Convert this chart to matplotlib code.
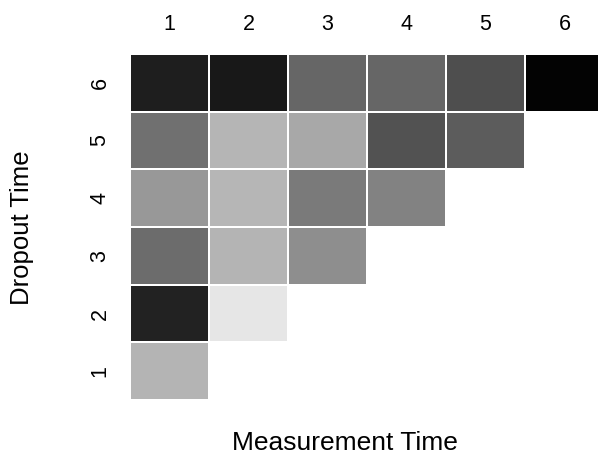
import numpy as np
import matplotlib
matplotlib.use("Agg")
import matplotlib.pyplot as plt

plt.rcParams['font.family'] = ['Liberation Sans', 'DejaVu Sans']

measurement = [1, 2, 3, 4, 5, 6]
dropout = [1, 2, 3, 4, 5, 6]
# gray level (0=black, 255=white) per dropout row (1..6), measurement col (1..6)
row1 = [180, np.nan, np.nan, np.nan, np.nan, np.nan]
row2 = [34, 230, np.nan, np.nan, np.nan, np.nan]
row3 = [108, 180, 142, np.nan, np.nan, np.nan]
row4 = [152, 182, 122, 130, np.nan, np.nan]
row5 = [112, 181, 168, 82, 92, np.nan]
row6 = [30, 24, 102, 102, 78, 3]

Z = np.ma.masked_invalid(np.array([row1, row2, row3, row4, row5, row6], dtype=float))

fig = plt.figure(figsize=(5.98, 4.59), dpi=100)
ax = fig.add_axes([130/598, 59/459, 474/598, 346/459])
xe = np.arange(len(measurement) + 1) + 0.5
ye = np.arange(len(dropout) + 1) + 0.5
ax.pcolormesh(xe, ye, Z, cmap='gray', vmin=0, vmax=255,
              edgecolors='white', linewidth=1.2)
ax.set_xlim(0.5, 6.5)
ax.set_ylim(0.5, 6.5)
for s in ax.spines.values():
    s.set_visible(False)
ax.xaxis.tick_top()
ax.set_xticks(measurement)
ax.set_xticklabels([str(m) for m in measurement], fontsize=15.5)
ax.set_yticks(dropout)
ax.set_yticklabels([str(d) for d in dropout], fontsize=15.5, rotation=90, va='center')
ax.tick_params(length=0)
ax.tick_params(axis='x', pad=14)
ax.tick_params(axis='y', pad=14)
fig.text(345/598, 1 - 443/459, 'Measurement Time', fontsize=19, ha='center', va='center')
fig.text(22/598, 1 - 228/459, 'Dropout Time', fontsize=18.5, ha='center', va='center', rotation=90)
fig.savefig('out.png', dpi=100)
